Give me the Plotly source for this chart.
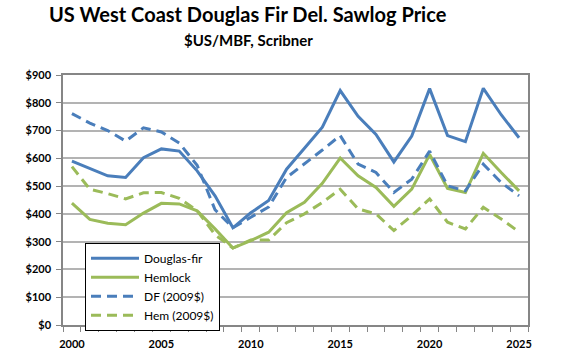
import plotly.graph_objects as go

years = list(range(2000, 2026))
douglas_fir = [590, 564, 537, 531, 602, 634, 626, 555, 465, 350, 404, 448, 561, 636, 712, 844, 751, 686, 587, 680, 851, 682, 660, 852, 757, 674]
hemlock = [439, 380, 366, 361, 403, 438, 436, 411, 346, 277, 304, 334, 404, 442, 510, 601, 537, 495, 427, 489, 614, 492, 477, 618, 549, 483]
df_2009 = [761, 727, 700, 662, 710, 695, 655, 575, 415, 350, 388, 425, 531, 579, 630, 682, 579, 549, 477, 525, 626, 501, 483, 579, 513, 465]
hem_2009 = [570, 489, 473, 454, 476, 477, 456, 412, 325, 277, 306, 306, 368, 400, 441, 489, 418, 400, 340, 394, 454, 370, 346, 424, 382, 335]
y_ticks = list(range(0, 1000, 100))
y_labels = ["$%d" % v for v in y_ticks]
x_ticks = [2000, 2005, 2010, 2015, 2020, 2025]
title_text = "US West Coast Douglas Fir Del. Sawlog Price"
subtitle_text = "$US/MBF, Scribner"

BLUE = "#4a7ebb"
GREEN = "#9bbb59"

fig = go.Figure()
series = [
    ("Douglas-fir", douglas_fir, BLUE, "solid"),
    ("Hemlock", hemlock, GREEN, "solid"),
    ("DF (2009$)", df_2009, BLUE, "10px,6px"),
    ("Hem (2009$)", hem_2009, GREEN, "10px,6px"),
]
for name, vals, col, dash in series:
    fig.add_trace(go.Scatter(x=years, y=vals, name=name, mode="lines",
                             line=dict(color=col, width=3, dash=dash)))

W, H = 565, 362
ML, MR, MT, MB = 63, 37, 75, 35
plot_w = W - ML - MR
plot_h = H - MT - MB
font_fam = "Lato, Open Sans, sans-serif"

def px_x(x):
    return (x - ML) / plot_w

def px_y(y):
    return (H - MB - y) / plot_h

fig.update_layout(
    width=W, height=H,
    margin=dict(l=ML, r=MR, t=MT, b=MB),
    paper_bgcolor="white", plot_bgcolor="white",
    showlegend=True,
    font=dict(family=font_fam, color="black"),
    annotations=[
        dict(text="<b>%s</b>" % title_text, xref="paper", yref="paper",
             x=px_x(248), y=px_y(14), xanchor="center", yanchor="middle",
             showarrow=False, font=dict(size=20, family=font_fam, color="black")),
        dict(text="<b>%s</b>" % subtitle_text, xref="paper", yref="paper",
             x=px_x(248), y=px_y(40), xanchor="center", yanchor="middle",
             showarrow=False, font=dict(size=15, family=font_fam, color="black")),
    ],
    legend=dict(
        x=px_x(85), y=px_y(244), xanchor="left", yanchor="top",
        bgcolor="white", bordercolor="black", borderwidth=1,
        font=dict(size=12, family=font_fam, color="black"),
        tracegroupgap=0, itemwidth=48,
    ),
    xaxis=dict(
        range=[1999.5, 2025.5], tickmode="array", tickvals=x_ticks,
        ticks="", showgrid=False, zeroline=False, ticklabelstandoff=8,
        showline=True, linecolor="#868686", linewidth=1.5, mirror=True,
        tickfont=dict(size=11, family=font_fam, color="black", weight="bold"),
        minor=dict(tickmode="array", tickvals=[1999.5 + k for k in range(27)],
                   ticks="outside", ticklen=5, tickcolor="#868686", showgrid=False),
    ),
    yaxis=dict(
        range=[0, 900], tickmode="array", tickvals=y_ticks, ticktext=y_labels,
        ticks="outside", ticklen=5, tickcolor="#868686", ticklabelstandoff=3,
        showgrid=True, gridcolor="#b3b3b3", gridwidth=1.5, zeroline=False,
        showline=True, linecolor="#868686", linewidth=1.5, mirror=True,
        tickfont=dict(size=11, family=font_fam, color="black", weight="bold"),
    ),
)
# remove the browser's default 8px body margin so the figure sits at the page's top-left corner
fig.write_html("out.html", config={"displayModeBar": False},
               post_script="document.body.style.margin='0';")
